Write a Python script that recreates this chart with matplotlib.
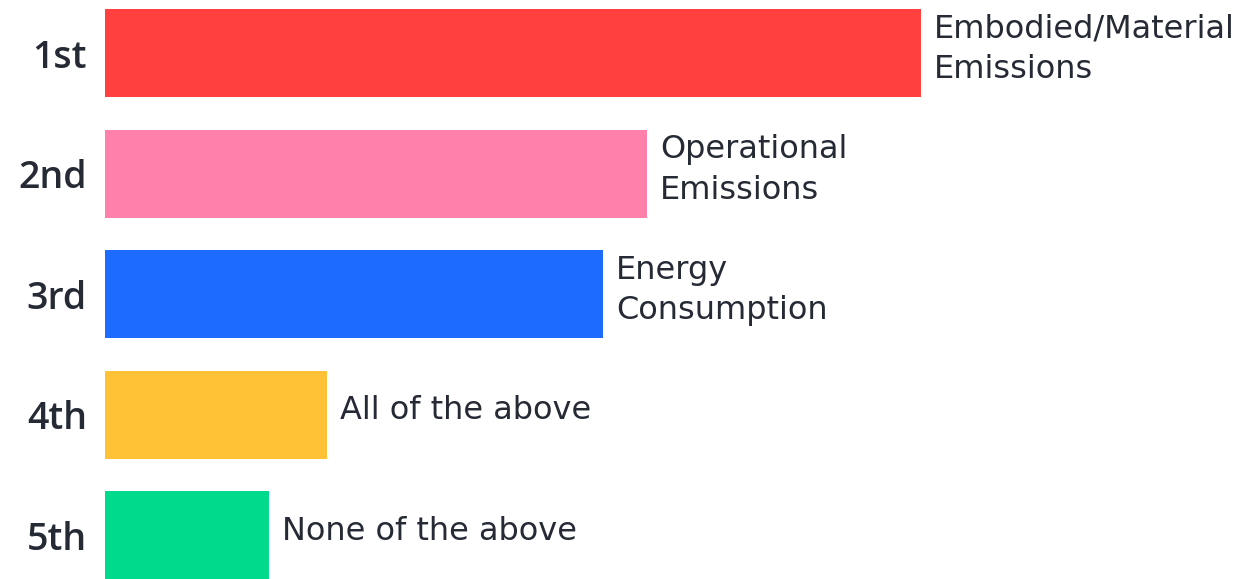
import matplotlib.pyplot as plt

# Ranking data
ranks = ['1st', '2nd', '3rd', '4th', '5th']
answers = ['Embodied/Material\nEmissions', 'Operational\nEmissions',
           'Energy\nConsumption', 'All of the above', 'None of the above']
scores = [816, 542, 498, 222, 164]
colors = ['#FF403E', '#FF80AA', '#1E6BFF', '#FFC236', '#00DA8C']

text_color = '#252A34'

fig = plt.figure(figsize=(12.51, 5.79), dpi=100)
ax = fig.add_axes([105 / 1251, 0, 1 - 105 / 1251, 1])

y = list(range(len(ranks)))
ax.barh(y, scores, height=0.73, color=colors)

# answer text to the right of each bar
for yi, s, txt in zip(y, scores, answers):
    ax.text(s + 13, yi - 0.03, txt, va='center', ha='left', fontsize=23,
            family='DejaVu Sans', color=text_color, linespacing=1.4)

ax.set_xlim(0, 1146)
ax.set_ylim(4.365, -0.44)
ax.set_yticks(y)
ax.set_yticklabels(ranks, fontsize=27, family='Open Sans', fontweight='semibold',
                   color=text_color)
ax.tick_params(axis='y', length=0, pad=13)
ax.set_xticks([])
for side in ax.spines.values():
    side.set_visible(False)

fig.savefig('out.png', dpi=100, facecolor='white')
